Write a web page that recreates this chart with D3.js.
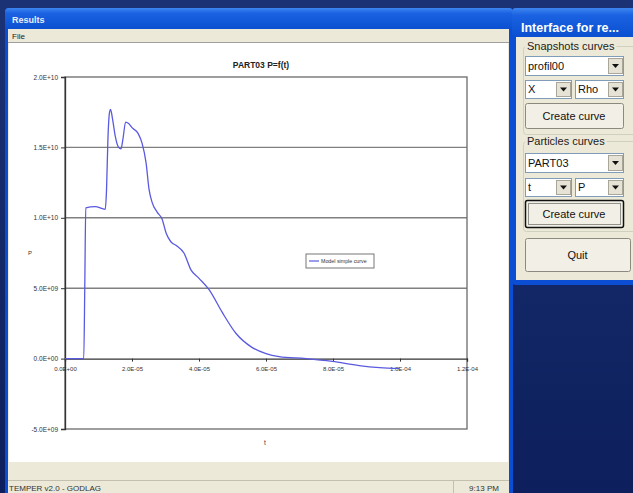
<!DOCTYPE html>
<html>
<head>
<meta charset="utf-8">
<script src="https://cdn.jsdelivr.net/npm/d3@7"></script>
<style>
  body { margin: 0; background: #14296b; overflow: hidden; }
  svg { display: block; }
</style>
</head>
<body>
<svg id="screen" width="633" height="493"></svg>
<script>
// curve: time (s) and P
var tValues = [0, 5.6e-6, 5.9e-6, 6.2e-6, 9e-6, 12.0e-6, 12.4e-6, 12.8e-6, 13.3e-6, 13.6e-6,
  14.2e-6, 15.0e-6, 16.0e-6, 16.7e-6, 17.3e-6, 18.1e-6, 19.0e-6, 20.0e-6, 21.8e-6, 23.0e-6,
  24.2e-6, 25.1e-6, 26.0e-6, 27.5e-6, 29.0e-6, 30.2e-6, 31.6e-6, 33.4e-6, 35.5e-6, 37.6e-6,
  40.0e-6, 43.0e-6, 46.9e-6, 51.0e-6, 55.8e-6, 60.0e-6, 63.9e-6, 72.0e-6, 79.8e-6, 87.8e-6,
  93.9e-6, 99.9e-6];
var pValues = [0, 0, 5.0e9, 10.7e9, 10.8e9, 10.6e9, 12.0e9, 15.5e9, 17.5e9, 17.7e9,
  17.0e9, 15.8e9, 15.0e9, 14.9e9, 15.6e9, 16.8e9, 16.7e9, 16.4e9, 16.0e9, 15.3e9,
  13.9e9, 12.0e9, 11.1e9, 10.4e9, 9.9e9, 8.9e9, 8.3e9, 8.0e9, 7.5e9, 6.3e9,
  5.7e9, 4.9e9, 3.3e9, 1.8e9, 0.8e9, 0.35e9, 0.14e9, 0, -0.2e9, -0.5e9,
  -0.64e9, -0.7e9];

var xTicks = [0, 2e-5, 4e-5, 6e-5, 8e-5, 1e-4, 1.2e-4];
var xTickLabels = ["0.0E+00", "2.0E-05", "4.0E-05", "6.0E-05", "8.0E-05", "1.0E-04", "1.2E-04"];
var yTicks = [-5e9, 0, 5e9, 1e10, 1.5e10, 2e10];
var yTickLabels = ["-5.0E+09", "0.0E+00", "5.0E+09", "1.0E+10", "1.5E+10", "2.0E+10"];

var chartTitle = "PART03 P=f(t)";
var seriesName = "Model simple curve";

var svg = d3.select("#screen");
var font = "'Liberation Sans', Arial, sans-serif";
var beige = "#ece9d8";

// desktop
var defs = svg.append("defs");
var bg = defs.append("linearGradient").attr("id", "desk").attr("x1", 0).attr("y1", 0).attr("x2", 0).attr("y2", 1);
bg.append("stop").attr("offset", 0).attr("stop-color", "#1b3274");
bg.append("stop").attr("offset", 1).attr("stop-color", "#0d1f5c");
svg.append("rect").attr("width", 633).attr("height", 493).attr("fill", "url(#desk)");

var tb = defs.append("linearGradient").attr("id", "titlebar").attr("x1", 0).attr("y1", 0).attr("x2", 0).attr("y2", 1);
tb.append("stop").attr("offset", 0).attr("stop-color", "#3d86f0");
tb.append("stop").attr("offset", 0.25).attr("stop-color", "#1a62e2");
tb.append("stop").attr("offset", 1).attr("stop-color", "#0a50d0");

// ---- Results window ----
var res = svg.append("g");
res.append("rect").attr("x", 5).attr("y", 8).attr("width", 508).attr("height", 490)
  .attr("rx", 4).attr("fill", "#0b4dd3");
res.append("rect").attr("x", 5).attr("y", 8).attr("width", 508).attr("height", 21)
  .attr("rx", 4).attr("fill", "url(#titlebar)");
res.append("text").attr("x", 12).attr("y", 23).text("Results")
  .attr("font-family", font).attr("font-weight", "bold").attr("font-size", 9).attr("fill", "#e8eefc");
res.append("rect").attr("x", 8).attr("y", 29).attr("width", 501).attr("height", 470).attr("fill", beige);
res.append("text").attr("x", 12).attr("y", 39).text("File")
  .attr("font-family", font).attr("font-size", 8).attr("fill", "#222");
res.append("line").attr("x1", 8).attr("x2", 509).attr("y1", 42.5).attr("y2", 42.5).attr("stroke", "#a0a0a0");
res.append("rect").attr("x", 9).attr("y", 43).attr("width", 499).attr("height", 419).attr("fill", "#fff");
res.append("line").attr("x1", 8).attr("x2", 509).attr("y1", 480.5).attr("y2", 480.5).attr("stroke", "#c4c0b0");
res.append("line").attr("x1", 453.5).attr("x2", 453.5).attr("y1", 481).attr("y2", 493).attr("stroke", "#c4c0b0");
res.append("text").attr("x", 9).attr("y", 491).text("TEMPER v2.0 - GODLAG")
  .attr("font-family", font).attr("font-size", 8).attr("fill", "#333");
res.append("text").attr("x", 484).attr("y", 491).attr("text-anchor", "middle").text("9:13 PM")
  .attr("font-family", font).attr("font-size", 8).attr("fill", "#333");

// ---- chart ----
var x = d3.scaleLinear().domain([0, 1.2e-4]).range([65, 467]);
var y = d3.scaleLinear().domain([-5e9, 2e10]).range([429, 77]);

var chart = svg.append("g");

chart.selectAll(".grid")
  .data(yTicks.filter(function(d) { return d > 0 && d < 2e10; }))
  .enter()
  .append("line")
  .attr("x1", x(0)).attr("x2", x(1.2e-4))
  .attr("y1", function(d) { return y(d); })
  .attr("y2", function(d) { return y(d); })
  .attr("stroke", "#808080").attr("stroke-width", 1.4);

chart.append("rect")
  .attr("x", x(0)).attr("y", y(2e10))
  .attr("width", x(1.2e-4) - x(0)).attr("height", y(-5e9) - y(2e10))
  .attr("fill", "none").attr("stroke", "#6a6a6a").attr("stroke-width", 1.3);

var yAxis = d3.axisLeft(y).tickValues(yTicks)
  .tickFormat(function(d, i) { return yTickLabels[i]; })
  .tickSize(4).tickPadding(3);
var gy = chart.append("g").attr("transform", "translate(" + x(0) + ",0)").call(yAxis);

var xAxis = d3.axisBottom(x).tickValues(xTicks)
  .tickFormat(function(d, i) { return xTickLabels[i]; })
  .tickSize(3).tickPadding(5);
var gx = chart.append("g").attr("transform", "translate(0," + y(0) + ")").call(xAxis);

[gx, gy].forEach(function(g) {
  g.select(".domain").attr("stroke", "#333").attr("stroke-width", 1.3);
  g.selectAll(".tick line").attr("stroke", "#333");
  g.selectAll("text").attr("font-family", font).attr("font-size", 6).attr("fill", "#333");
});
gy.selectAll("text").attr("font-size", 6.5);

var line = d3.line()
  .x(function(d) { return x(d[0]); })
  .y(function(d) { return y(d[1]); })
  .curve(d3.curveMonotoneX);

chart.append("path")
  .datum(d3.zip(tValues, pValues))
  .attr("d", line)
  .attr("fill", "none")
  .attr("stroke", "#5a5ae0")
  .attr("stroke-width", 1.3);

chart.append("text").attr("x", 261).attr("y", 68).attr("text-anchor", "middle")
  .text(chartTitle).attr("font-family", font).attr("font-weight", "bold")
  .attr("font-size", 8.5).attr("fill", "#222");
chart.append("text").attr("x", 265).attr("y", 445).attr("text-anchor", "middle")
  .text("t").attr("font-family", font).attr("font-size", 6.5).attr("fill", "#333");
chart.append("text").attr("x", 30).attr("y", 255).attr("text-anchor", "middle")
  .text("P").attr("font-family", font).attr("font-size", 6).attr("fill", "#333");

var legend = chart.append("g").attr("transform", "translate(306,254)");
legend.append("rect").attr("width", 68).attr("height", 14)
  .attr("fill", "#fff").attr("stroke", "#777").attr("stroke-width", 1);
legend.append("line").attr("x1", 3).attr("x2", 13).attr("y1", 7).attr("y2", 7)
  .attr("stroke", "#5a5ae0").attr("stroke-width", 1.2);
legend.append("text").attr("x", 15).attr("y", 9).text(seriesName)
  .attr("font-family", font).attr("font-size", 5.3).attr("fill", "#333");

// ---- Interface window ----
var ui = svg.append("g");
ui.append("rect").attr("x", 512).attr("y", 8).attr("width", 140).attr("height", 277)
  .attr("rx", 4).attr("fill", "#0b4dd3");
ui.append("rect").attr("x", 512).attr("y", 8).attr("width", 140).attr("height", 29)
  .attr("rx", 4).attr("fill", "url(#titlebar)");
ui.append("text").attr("x", 521).attr("y", 32).text("Interface for re...")
  .attr("font-family", font).attr("font-weight", "bold").attr("font-size", 12.5).attr("fill", "#fff");
ui.append("rect").attr("x", 516).attr("y", 37).attr("width", 130).attr("height", 243).attr("fill", beige);

var uiFont = 11;
function groupBox(yTop, h, label) {
  ui.append("rect").attr("x", 523.5).attr("y", yTop + 0.5).attr("width", 114).attr("height", h)
    .attr("rx", 3).attr("fill", "none").attr("stroke", "#d0d0bf");
  var t = ui.append("text").attr("x", 527).attr("y", yTop + 4).text(label)
    .attr("font-family", font).attr("font-size", uiFont).attr("fill", "#222");
  var w = t.node().getComputedTextLength();
  ui.append("rect").attr("x", 525).attr("y", yTop - 2).attr("width", w + 4).attr("height", 5).attr("fill", beige);
  t.raise();
}
function combo(x0, y0, w, h, label) {
  ui.append("rect").attr("x", x0 + 0.5).attr("y", y0 + 0.5).attr("width", w).attr("height", h)
    .attr("fill", "#fff").attr("stroke", "#7f9db9");
  ui.append("text").attr("x", x0 + 3).attr("y", y0 + h / 2 + 4).text(label)
    .attr("font-family", font).attr("font-size", uiFont).attr("fill", "#111");
  var bx = x0 + w - 15;
  ui.append("rect").attr("x", bx + 0.5).attr("y", y0 + 2.5).attr("width", 14).attr("height", h - 4)
    .attr("fill", "#e6e3d6").attr("stroke", "#a8a698");
  var cx = bx + 7.5, cy = y0 + h / 2 + 0.5;
  ui.append("path").attr("d", "M" + (cx - 3.5) + "," + (cy - 2) + "h7l-3.5,4z").attr("fill", "#111");
}
function button(x0, y0, w, h, label, focused) {
  ui.append("rect").attr("x", x0 + 0.5).attr("y", y0 + 0.5).attr("width", w).attr("height", h)
    .attr("rx", 2).attr("fill", "#f1efe6").attr("stroke", focused ? "#111" : "#8c8a7f")
    .attr("stroke-width", focused ? 1.5 : 1);
  if (focused) {
    ui.append("rect").attr("x", x0 + 3.5).attr("y", y0 + 3.5).attr("width", w - 6).attr("height", h - 6)
      .attr("fill", "none").attr("stroke", "#333").attr("stroke-dasharray", "1,1");
  }
  ui.append("text").attr("x", x0 + w / 2).attr("y", y0 + h / 2 + 4).attr("text-anchor", "middle")
    .text(label).attr("font-family", font).attr("font-size", uiFont).attr("fill", "#111");
}

groupBox(46, 88, "Snapshots curves");
combo(525, 56, 98, 19, "profil00");
combo(525, 80, 46, 18, "X");
combo(575, 80, 48, 18, "Rho");
button(525, 103, 98, 25, "Create  curve", false);

groupBox(141, 90, "Particles curves");
combo(525, 153, 98, 19, "PART03");
combo(525, 178, 46, 18, "t");
combo(575, 178, 48, 18, "P");
button(525, 200, 98, 27, "Create  curve", true);

button(525, 238, 105, 33, "Quit", false);
</script>
</body>
</html>
